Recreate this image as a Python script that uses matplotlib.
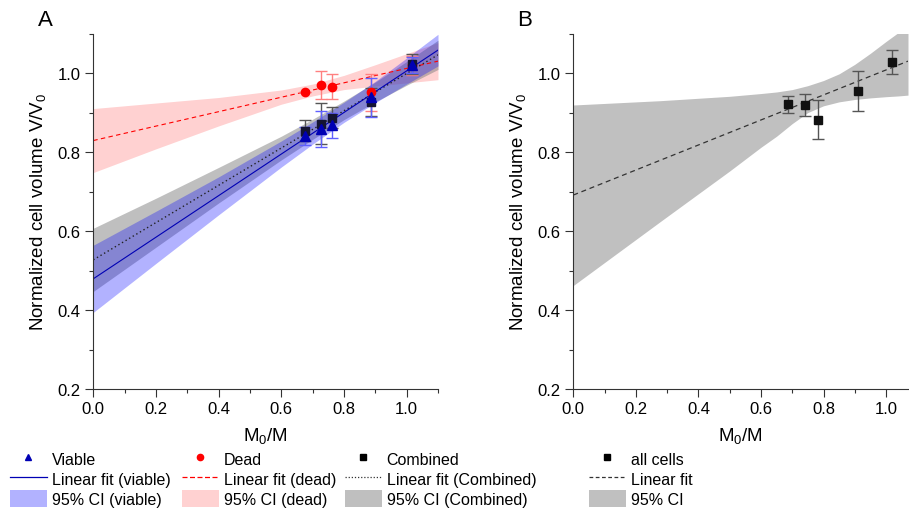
import numpy as np
import matplotlib
matplotlib.use('Agg')
import matplotlib.pyplot as plt
from matplotlib.lines import Line2D
from matplotlib.patches import Patch
from matplotlib.ticker import MultipleLocator

plt.rcParams['font.family'] = ['Liberation Sans', 'DejaVu Sans']
plt.rcParams['mathtext.fontset'] = 'custom'
plt.rcParams['mathtext.rm'] = 'Liberation Sans'
plt.rcParams['mathtext.it'] = 'Liberation Sans'

# panel A data
x_pts = [0.675, 0.728, 0.763, 0.886, 1.017]
viable_y = [0.840, 0.858, 0.868, 0.938, 1.020]
viable_err = [0.023, 0.045, 0.032, 0.050, 0.020]
dead_y = [0.951, 0.970, 0.965, 0.951, 1.020]
dead_err = [0.000, 0.036, 0.032, 0.046, 0.024]
comb_y = [0.854, 0.872, 0.887, 0.927, 1.023]
comb_err = [0.027, 0.053, 0.027, 0.036, 0.026]

# fit lines (read at ends)
fit_x = [0.0, 1.1]
viable_fit = [0.479, 1.058]
dead_fit = [0.829, 1.030]
comb_fit = [0.527, 1.046]

# confidence bands
band_x = [0.0, 0.2, 0.4, 0.6, 0.7, 0.8, 0.9, 1.0, 1.1]
viable_lo = [0.394, 0.518, 0.641, 0.762, 0.820, 0.875, 0.925, 0.972, 1.018]
viable_hi = [0.564, 0.650, 0.737, 0.828, 0.876, 0.926, 0.979, 1.038, 1.098]
comb_lo = [0.447, 0.559, 0.671, 0.780, 0.832, 0.882, 0.927, 0.969, 1.009]
comb_hi = [0.607, 0.683, 0.761, 0.840, 0.883, 0.929, 0.977, 1.029, 1.083]
dead_lo = [0.748, 0.808, 0.866, 0.921, 0.942, 0.958, 0.967, 0.975, 0.983]
dead_hi = [0.910, 0.924, 0.938, 0.957, 0.972, 0.994, 1.021, 1.049, 1.077]

# panel B data
b_x = [0.687, 0.740, 0.782, 0.909, 1.020]
b_y = [0.921, 0.919, 0.882, 0.954, 1.027]
b_err = [0.022, 0.027, 0.049, 0.051, 0.030]
b_fit_x = [0.0, 1.07]
b_fit = [0.691, 1.030]
b_band_x = [0.0, 0.28, 0.5, 0.6, 0.65, 0.7, 0.75, 0.8, 0.85, 0.9, 0.95, 1.0, 1.04, 1.07]
b_lo = [0.462, 0.625, 0.752, 0.812, 0.840, 0.872, 0.900, 0.917, 0.927, 0.933, 0.937, 0.940, 0.942, 0.944]
b_hi = [0.919, 0.930, 0.941, 0.948, 0.952, 0.958, 0.968, 0.981, 0.998, 1.022, 1.050, 1.080, 1.103, 1.120]

blue = '#0000b4'
red = '#ff0000'

fig = plt.figure(figsize=(9.09, 5.10), dpi=100)
axA = fig.add_axes([93.3/909, 120/510, (438-93.3)/909, 355.5/510])
axB = fig.add_axes([573.3/909, 120/510, (908-573.3)/909, 355.5/510])

for ax in (axA, axB):
    ax.spines['top'].set_visible(False)
    ax.spines['right'].set_visible(False)
    ax.spines['left'].set_color('#333333')
    ax.spines['bottom'].set_color('#333333')
    ax.set_ylim(0.2, 1.1)
    ax.xaxis.set_major_locator(MultipleLocator(0.2))
    ax.xaxis.set_minor_locator(MultipleLocator(0.1))
    ax.yaxis.set_major_locator(MultipleLocator(0.2))
    ax.yaxis.set_minor_locator(MultipleLocator(0.1))
    ax.tick_params(which='major', direction='out', length=5.5, width=0.8, labelsize=12, color='#333333')
    ax.tick_params(which='minor', direction='out', length=3, width=0.8, color='#333333')
    ax.set_xlabel('M$_0$/M', fontsize=13.5, labelpad=6)
    ax.set_ylabel('Normalized cell volume V/V$_0$', fontsize=13.5, labelpad=7)
    ax.yaxis.set_major_formatter(matplotlib.ticker.FormatStrFormatter('%.1f'))
    ax.xaxis.set_major_formatter(matplotlib.ticker.FormatStrFormatter('%.1f'))

axA.set_xlim(0, 1.1)
axB.set_xlim(0, 1.07)

# panel A
axA.fill_between(band_x, dead_lo, dead_hi, color=red, alpha=0.18, lw=0)
axA.fill_between(band_x, comb_lo, comb_hi, color='#808080', alpha=0.5, lw=0)
axA.fill_between(band_x, viable_lo, viable_hi, color='#0000ff', alpha=0.3, lw=0)
axA.plot(fit_x, dead_fit, color=red, ls=(0, (4, 3)), lw=0.8)
axA.plot(fit_x, comb_fit, color='#222222', ls=(0, (1, 2)), lw=1.0)
axA.plot(fit_x, viable_fit, color=blue, lw=0.8)

axA.errorbar(x_pts, dead_y, yerr=dead_err, fmt='o', color=red, ms=6,
             ecolor='#ff8080', elinewidth=1, capsize=4, capthick=1)
axA.errorbar(x_pts, comb_y, yerr=comb_err, fmt='s', color='#141432', ms=5.5,
             ecolor='#555555', elinewidth=1, capsize=4, capthick=1)
axA.errorbar(x_pts, viable_y, yerr=viable_err, fmt='^', color=blue, ms=6.5,
             ecolor='#6060ff', elinewidth=1, capsize=4, capthick=1)

# panel B
axB.fill_between(b_band_x, b_lo, b_hi, color='#c0c0c0', lw=0)
axB.plot(b_fit_x, b_fit, color='#333333', ls=(0, (4, 3)), lw=0.9)
axB.errorbar(b_x, b_y, yerr=b_err, fmt='s', color='#111111', ms=5.5,
             ecolor='#555555', elinewidth=1, capsize=4, capthick=1)

fig.text(45/909, 1 - 20/510, 'A', fontsize=16, va='center', ha='center')
fig.text(525/909, 1 - 20/510, 'B', fontsize=16, va='center', ha='center')

# legends
cols = [
    [Line2D([], [], marker='^', color=blue, ls='none', ms=5),
     Line2D([], [], color=blue, lw=0.9),
     Patch(facecolor='#0000ff', alpha=0.3, edgecolor='none')],
    [Line2D([], [], marker='o', color=red, ls='none', ms=4.5),
     Line2D([], [], color=red, ls=(0, (4, 2)), lw=0.9),
     Patch(facecolor=red, alpha=0.18, edgecolor='none')],
    [Line2D([], [], marker='s', color='black', ls='none', ms=4),
     Line2D([], [], color='#333333', ls=(0, (1, 1.5)), lw=0.9),
     Patch(facecolor='#808080', alpha=0.5, edgecolor='none')],
    [Line2D([], [], marker='s', color='black', ls='none', ms=4),
     Line2D([], [], color='#333333', ls=(0, (3, 2)), lw=0.9),
     Patch(facecolor='#c0c0c0', edgecolor='none')],
]
labels = [
    ['Viable', 'Linear fit (viable)', '95% CI (viable)'],
    ['Dead', 'Linear fit (dead)', '95% CI (dead)'],
    ['Combined', 'Linear fit (Combined)', '95% CI (Combined)'],
    ['all cells', 'Linear fit', '95% CI'],
]
xpos = [10, 182, 345, 589]
for h, l, xp in zip(cols, labels, xpos):
    leg = fig.legend(h, l, loc='upper left', bbox_to_anchor=(xp/909, 1 - 451/510),
                     frameon=False, fontsize=11.5, handlelength=2.3, handleheight=1.3,
                     handletextpad=0.3, labelspacing=0.15, borderpad=0, borderaxespad=0)

fig.savefig('out.png', dpi=100)
